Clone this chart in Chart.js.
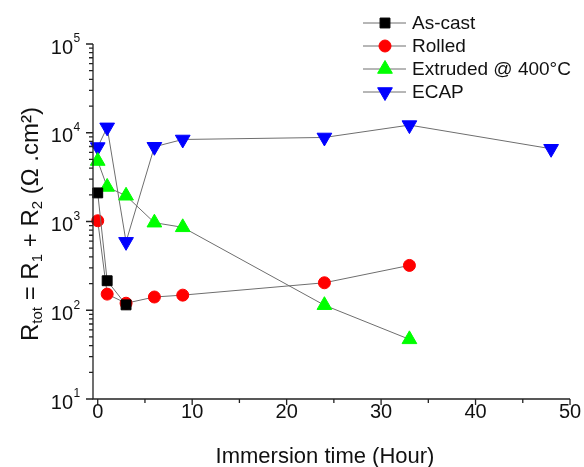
<!DOCTYPE html>
<html>
<head>
<meta charset="utf-8">
<script src="https://cdn.jsdelivr.net/npm/chart.js@4/dist/chart.umd.min.js"></script>
<style>
  body { margin: 0; background: #fff; }
  #wrap { width: 584px; height: 467px; }
</style>
</head>
<body>
<div id="wrap"><canvas id="myChart" width="584" height="467"></canvas></div>
<script>
// values (hours, ohm.cm2)
const asCastTimes = [0, 1, 3];
const asCast = [2100, 215, 115];
const rolledTimes = [0, 1, 3, 6, 9, 24, 33];
const rolled = [1020, 152, 120, 141, 148, 204, 320];
const extrudedTimes = [0, 1, 3, 6, 9, 24, 33];
const extruded = [4800, 2450, 1950, 970, 860, 114, 47];
const ecapTimes = [0, 1, 3, 6, 9, 24, 33, 48];
const ecap = [6900, 11500, 590, 6950, 8400, 8850, 12200, 6600];

const xTicks = [0, 10, 20, 30, 40, 50];
const yPowers = [1, 2, 3, 4, 5];

const FONT = "'Liberation Sans', Arial, sans-serif";
const lineGray = "#6e6e6e";

const pts = (xs, ys) => xs.map((x, i) => ({ x: x, y: ys[i] }));

function series(label, xs, ys, color, style, radius, rotation) {
  return {
    label: label,
    data: pts(xs, ys),
    borderColor: lineGray,
    borderWidth: 1,
    pointBackgroundColor: color,
    pointBorderColor: color,
    pointBorderWidth: 1,
    pointStyle: style,
    pointRadius: radius,
    pointHoverRadius: radius,
    pointRotation: rotation || 0,
    markerColor: color,
    clip: false,
  };
}

const axesPlugin = {
  id: "axesPlugin",
  afterDraw(chart) {
    const ctx = chart.ctx;
    const xs = chart.scales.x;
    const ys = chart.scales.y;
    const area = chart.chartArea;
    ctx.save();
    ctx.strokeStyle = "#222";
    ctx.lineWidth = 1.3;

    // axis lines
    ctx.beginPath();
    ctx.moveTo(area.left, area.top);
    ctx.lineTo(area.left, area.bottom);
    ctx.lineTo(area.right, area.bottom);
    ctx.stroke();

    // x ticks
    ctx.beginPath();
    for (let v = 0; v <= 50; v += 5) {
      const px = xs.getPixelForValue(v);
      const len = v % 10 === 0 ? 6 : 4;
      ctx.moveTo(px, area.bottom);
      ctx.lineTo(px, area.bottom + len);
    }
    // y ticks
    for (let p = 1; p <= 5; p++) {
      for (let m = 1; m <= 9; m++) {
        if (p === 5 && m > 1) break;
        const py = ys.getPixelForValue(m * Math.pow(10, p));
        const len = m === 1 ? 7 : 4;
        ctx.moveTo(area.left, py);
        ctx.lineTo(area.left - len, py);
      }
    }
    ctx.stroke();

    ctx.fillStyle = "#111";
    // x tick labels
    ctx.font = "20px " + FONT;
    ctx.textAlign = "center";
    ctx.textBaseline = "middle";
    xTicks.forEach(v => {
      ctx.fillText(String(v), xs.getPixelForValue(v), 412);
    });

    // y tick labels 10^n
    yPowers.forEach(p => {
      const py = ys.getPixelForValue(Math.pow(10, p));
      ctx.font = "20px " + FONT;
      ctx.textAlign = "right";
      ctx.textBaseline = "middle";
      ctx.fillText("10", 73, py + 4);
      ctx.font = "12px " + FONT;
      ctx.textAlign = "left";
      ctx.fillText(String(p), 73.5, py - 5);
    });

    // x title
    ctx.font = "22px " + FONT;
    ctx.textAlign = "center";
    ctx.textBaseline = "middle";
    ctx.fillText("Immersion time (Hour)", 325, 457);

    // y title with subscripts, rotated
    const parts = [
      ["R", false], ["tot", true], [" = R", false], ["1", true],
      [" + R", false], ["2", true], [" (\u03A9 .cm\u00B2)", false],
    ];
    const big = "24px " + FONT, small = "15px " + FONT;
    let total = 0;
    parts.forEach(([t, sub]) => { ctx.font = sub ? small : big; total += ctx.measureText(t).width; });
    ctx.translate(30, 224);
    ctx.rotate(-Math.PI / 2);
    ctx.textAlign = "left";
    ctx.textBaseline = "alphabetic";
    let cx = -total / 2;
    parts.forEach(([t, sub]) => {
      ctx.font = sub ? small : big;
      ctx.fillText(t, cx, sub ? 12 : 8);
      cx += ctx.measureText(t).width;
    });
    ctx.restore();

    // legend
    ctx.save();
    const rows = [23, 46, 69, 92];
    chart.data.datasets.forEach((ds, i) => {
      const y = rows[i];
      ctx.strokeStyle = lineGray;
      ctx.lineWidth = 1;
      ctx.beginPath();
      ctx.moveTo(363, y);
      ctx.lineTo(406, y);
      ctx.stroke();
      ctx.fillStyle = ds.markerColor;
      ctx.strokeStyle = ds.markerColor;
      Chart.helpers.drawPoint(ctx, {
        pointStyle: ds.pointStyle,
        radius: ds.pointRadius,
        rotation: ds.pointRotation,
        borderWidth: 1,
      }, 385, y);
      ctx.fillStyle = "#111";
      ctx.font = "19px " + FONT;
      ctx.textAlign = "left";
      ctx.textBaseline = "middle";
      ctx.fillText(ds.label, 412, y + 1);
    });
    ctx.restore();
  },
};

const ctx = document.getElementById("myChart").getContext("2d");
const myChart = new Chart(ctx, {
  type: "line",
  data: {
    datasets: [
      series("As-cast", asCastTimes, asCast, "#000000", "rect", 7),
      series("Rolled", rolledTimes, rolled, "#ff0000", "circle", 6),
      series("Extruded @ 400\u00B0C", extrudedTimes, extruded, "#00ff00", "triangle", 8.5),
      series("ECAP", ecapTimes, ecap, "#0000ff", "triangle", 8.5, 180),
    ],
  },
  options: {
    responsive: false,
    animation: false,
    layout: { padding: { top: 44, right: 14, left: 0, bottom: 0 } },
    plugins: { legend: { display: false }, tooltip: { enabled: false } },
    scales: {
      x: {
        type: "linear",
        min: -0.5,
        max: 50,
        grid: { display: false },
        border: { display: false },
        ticks: { display: false },
        afterFit: s => { s.height = 68; },
      },
      y: {
        type: "logarithmic",
        min: 10,
        max: 100000,
        grid: { display: false },
        border: { display: false },
        ticks: { display: false },
        afterFit: s => { s.height = undefined; s.width = 93; },
      },
    },
  },
  plugins: [axesPlugin],
});
</script>
</body>
</html>
